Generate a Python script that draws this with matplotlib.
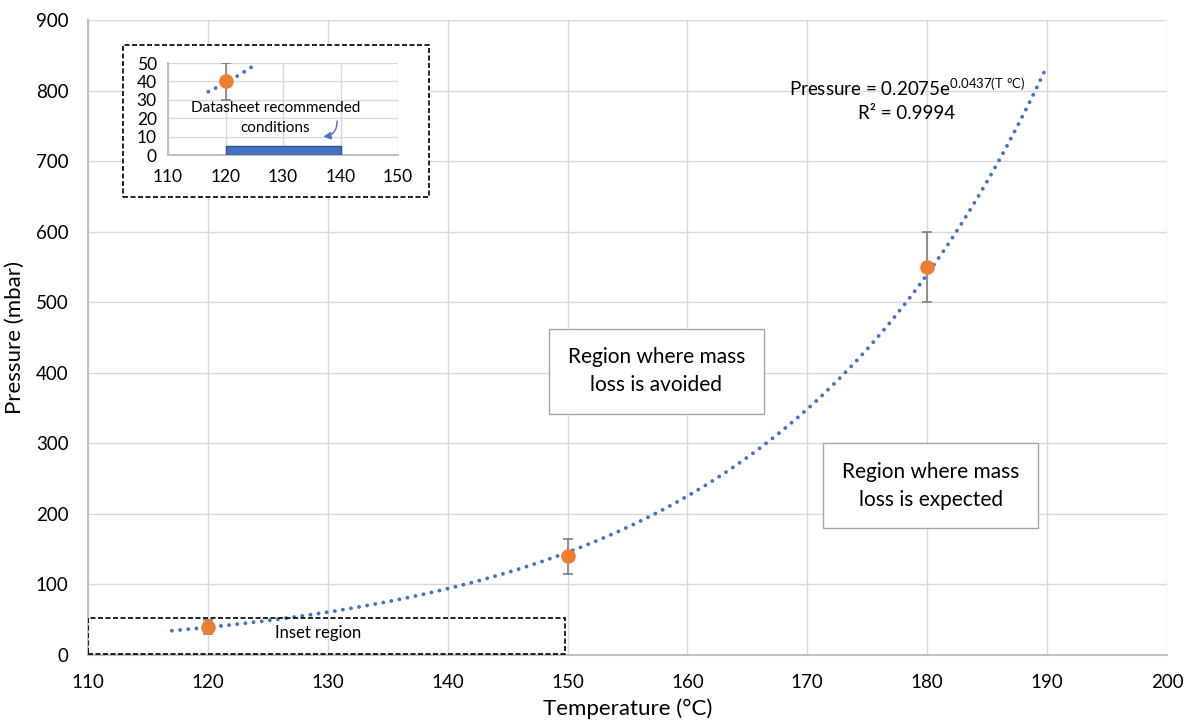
import numpy as np
import matplotlib
matplotlib.use("Agg")
import matplotlib.pyplot as plt
from matplotlib.patches import Rectangle

# measured points
temp = [120, 150, 180]          # deg C
pressure = [40, 140, 550]       # mbar
err = [10, 25, 50]

# datasheet recommended window (inset bar)
ds_start = 120
ds_end = 140
ds_height = 5

plt.rcParams['font.family'] = ['Lato', 'DejaVu Sans']
plt.rcParams['mathtext.fontset'] = 'custom'
plt.rcParams['mathtext.rm'] = 'Lato'

blue = '#4472C4'
orange = '#ED7D31'
axcol = '#BFBFBF'
gridcol = '#D9D9D9'

# exponential trendline fitted to the points
b, lna = np.polyfit(temp, np.log(pressure), 1)
a = np.exp(lna)
t_fit = np.linspace(117, 190, 200)
p_fit = a * np.exp(b * t_fit)

fig = plt.figure(figsize=(11.84, 7.22), dpi=100)
ax = fig.add_axes([0.0743, 0.0928, 0.9113, 0.8795])

def style(axis, size):
    axis.grid(True, color=gridcol, lw=1)
    axis.set_axisbelow(True)
    for s in ['top', 'right']:
        axis.spines[s].set_visible(False)
    for s in ['left', 'bottom']:
        axis.spines[s].set_color(axcol)
        axis.spines[s].set_linewidth(1.5)
    axis.tick_params(length=0, labelsize=size, colors='black')

style(ax, 13.5)
ax.tick_params(axis='x', pad=14)
ax.tick_params(axis='y', pad=14)
ax.set_xlim(110, 200)
ax.set_ylim(0, 900)
ax.set_xticks(np.arange(110, 201, 10))
ax.set_yticks(np.arange(0, 901, 100))

ax.plot(t_fit, p_fit, color=blue, lw=2.8, ls=(0, (0.01, 2.1)),
        dash_capstyle='round', zorder=3)
ax.errorbar(temp, pressure, yerr=err, fmt='none', ecolor='#7F7F7F',
            elinewidth=1.2, capsize=3.5, capthick=1.2, zorder=2)
ax.plot(temp, pressure, 'o', color=orange, ms=9.5, zorder=4)

ax.set_xlabel('Temperature (°C)', fontsize=16, labelpad=5)
ax.set_ylabel('Pressure (mbar)', fontsize=16, labelpad=8)

ax.text(178.3, 804, 'Pressure = 0.2075e$^{\\mathregular{0.0437(T\\ °C)}}$',
        ha='center', va='center', fontsize=13.5)
ax.text(178.3, 767, 'R² = 0.9994', ha='center', va='center', fontsize=13.5)

box = dict(boxstyle='square,pad=0.9', fc='white', ec='#A6A6A6', lw=1)
ax.text(157.4, 402, 'Region where mass\nloss is avoided', ha='center',
        va='center', fontsize=15, bbox=box, linespacing=1.5)
ax.text(180.3, 240, 'Region where mass\nloss is expected', ha='center',
        va='center', fontsize=15, bbox=box, linespacing=1.5)

ax.add_patch(Rectangle((110, 2), 39.8, 50, fill=False, ec='black',
                       ls=(0, (3, 1.5)), lw=1.2, zorder=5))
ax.text(129.2, 31, 'Inset region', ha='center', va='center', fontsize=12)

# inset frame
fig.add_artist(Rectangle((0.1036, 0.7276), 0.2587, 0.2101,
                         transform=fig.transFigure, fc='white', ec='black',
                         ls=(0, (3, 1.5)), lw=1.2, zorder=1))

ins = fig.add_axes([0.1419, 0.7853, 0.1943, 0.1274], zorder=2)
style(ins, 12.5)
ins.patch.set_alpha(0)
ins.tick_params(axis='x', pad=10)
ins.tick_params(axis='y', pad=8)
ins.set_xlim(110, 150)
ins.set_ylim(0, 50)
ins.set_xticks(np.arange(110, 151, 10))
ins.set_yticks(np.arange(0, 51, 10))

mask = t_fit <= 125.5
ins.plot(t_fit[mask], p_fit[mask], color=blue, lw=2.8, ls=(0, (0.01, 2.1)),
         dash_capstyle='round', zorder=3, clip_on=False)
ins.errorbar(temp[:1], pressure[:1], yerr=err[:1], fmt='none',
             ecolor='#7F7F7F', elinewidth=1.2, capsize=3.5, capthick=1.2,
             zorder=2)
ins.plot(temp[:1], pressure[:1], 'o', color=orange, ms=9.5, zorder=4)
ins.bar([ds_start], [ds_height], width=ds_end - ds_start, align='edge',
        color=blue, edgecolor='#2F528F', lw=1, zorder=3)
ins.text(128.7, 20, 'Datasheet recommended\nconditions', ha='center',
         va='center', fontsize=11, linespacing=1.5, zorder=5)
ins.annotate('', xy=(137.0, 10), xytext=(139.4, 18.5),
             arrowprops=dict(arrowstyle='-|>', color=blue, lw=1,
                             connectionstyle='arc3,rad=-0.45',
                             mutation_scale=11, shrinkA=0, shrinkB=0))

fig.savefig('out.png', dpi=100)
